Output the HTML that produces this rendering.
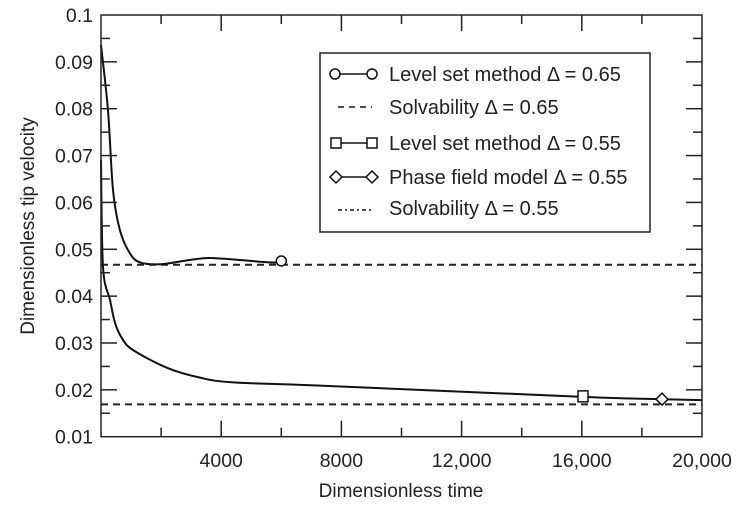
<!DOCTYPE html>
<html><head><meta charset="utf-8"><style>
html,body{margin:0;padding:0;background:#fff;}
svg{display:block;font-family:"Liberation Sans",Arial,sans-serif;}
</style></head><body>
<svg id="chart" width="741" height="505" viewBox="0 0 741 505">
<g id="plot"></g>
<text x="401" y="497" font-size="19" text-anchor="middle" fill="#222">Dimensionless time</text>
<text transform="translate(34,226) rotate(-90)" font-size="19" text-anchor="middle" fill="#222">Dimensionless tip velocity</text>
<g id="legend"></g>
</svg>
<script>
const xTicks=[4000,8000,12000,16000,20000];
const xTickLabels=["4000","8000","12,000","16,000","20,000"];
const yTicks=[0.01,0.02,0.03,0.04,0.05,0.06,0.07,0.08,0.09,0.1];
const yTickLabels=["0.01","0.02","0.03","0.04","0.05","0.06","0.07","0.08","0.09","0.1"];
const t065=[0,233,400,632,965,1298,1963,2629,3461,4026,4626,5624,5990];
const v065=[0.0936,0.0796,0.0626,0.054,0.0491,0.0472,0.0468,0.0474,0.0481,0.048,0.0477,0.0472,0.0472];
const t055=[0,67,300,466,699,1065,2196,3295,4393,7288,16040,18670,20000];
const v055=[0.0691,0.0462,0.0392,0.0343,0.031,0.0285,0.0247,0.0226,0.0216,0.0209,0.0185,0.018,0.0178];
const solv065=0.0467;
const solv055=0.0169;
const circleMark=[6000,0.0475];
const squareMark=[16040,0.0185];
const diamondMark=[18670,0.0180];

const X0=101,X1=702,Y0=436.7,Y1=15;
const sx=t=>X0+(t-0)/20000*(X1-X0);
const sy=v=>Y0-(v-0.01)/0.09*(Y0-Y1);
const NS="http://www.w3.org/2000/svg";
const g=document.getElementById('plot');
function mk(tag,attrs,parent){const e=document.createElementNS(NS,tag);for(const k in attrs)e.setAttribute(k,attrs[k]);(parent||g).appendChild(e);return e;}

let e=mk('line',{x1:X0,x2:X1,y1:sy(solv065),y2:sy(solv065),stroke:'#222','stroke-width':2,'stroke-dasharray':'7,5'});


e=mk('line',{x1:X0,x2:X1,y1:sy(solv055),y2:sy(solv055),stroke:'#222','stroke-width':2,'stroke-dasharray':'7,5'});



function smooth(ts,vs){
 const p=ts.map((t,i)=>[sx(t),sy(vs[i])]);
 let d='M'+p[0][0]+','+p[0][1];
 for(let i=0;i<p.length-1;i++){
  const p0=p[i-1]||p[i],p1=p[i],p2=p[i+1],p3=p[i+2]||p2;
  const c1=[p1[0]+(p2[0]-p0[0])/6,p1[1]+(p2[1]-p0[1])/6];
  const c2=[p2[0]-(p3[0]-p1[0])/6,p2[1]-(p3[1]-p1[1])/6];
  d+=' C'+c1+' '+c2+' '+p2;
 }
 return d;
}
e=mk('path',{d:smooth(t065,v065),fill:'none',stroke:'#111','stroke-width':2});


e=mk('path',{d:smooth(t055,v055),fill:'none',stroke:'#111','stroke-width':2});



e=mk('circle',{cx:sx(circleMark[0]),cy:sy(circleMark[1]),r:5,fill:'#fff',stroke:'#111','stroke-width':1.5});


e=mk('rect',{x:sx(squareMark[0])-5,y:sy(squareMark[1])-6,width:10,height:11,fill:'#fff',stroke:'#111','stroke-width':1.5});


{const cx=sx(diamondMark[0]),cy=sy(diamondMark[1]);
e=mk('polygon',{points:`${cx-6},${cy} ${cx},${cy-6} ${cx+6},${cy} ${cx},${cy+6}`,fill:'#fff',stroke:'#111','stroke-width':1.5});

}

e=mk('rect',{x:X0,y:Y1,width:X1-X0,height:Y0-Y1,fill:'none',stroke:'#222','stroke-width':1.5});



for(let t=2000;t<20000;t+=2000){
 const L=(t%4000===0)?16:9,x=sx(t);
 mk('line',{x1:x,x2:x,y1:Y0,y2:Y0-L,stroke:'#222','stroke-width':1.5});
 mk('line',{x1:x,x2:x,y1:Y1,y2:Y1+L,stroke:'#222','stroke-width':1.5});
}
xTicks.forEach((t,i)=>{
 const el=mk('text',{x:sx(t),y:467,'font-size':19.5,'text-anchor':'middle',fill:'#222'});
 el.textContent=xTickLabels[i];
 
 
});
for(let k=1;k<18;k++){
 const v=0.01+k*0.005,L=(k%2===0)?16:9,y=sy(v);
 mk('line',{x1:X0,x2:X0+L,y1:y,y2:y,stroke:'#222','stroke-width':1.5});
 mk('line',{x1:X1,x2:X1-L,y1:y,y2:y,stroke:'#222','stroke-width':1.5});
}
yTicks.forEach((v,i)=>{
 const el=mk('text',{x:93,y:sy(v)+7,'font-size':19.5,'text-anchor':'end',fill:'#222'});
 el.textContent=yTickLabels[i];
 
 
});

(function(){
const lg=document.getElementById('legend');
function m(tag,a){return mk(tag,a,lg);}
m('rect',{x:320,y:53,width:330,height:179,fill:'#fff',stroke:'#222','stroke-width':1.5});
const rows=[74,107,143,177,208];
const labels=["Level set method \u0394 = 0.65","Solvability \u0394 = 0.65","Level set method \u0394 = 0.55","Phase field model \u0394 = 0.55","Solvability \u0394 = 0.55"];
rows.forEach((y,i)=>{
 const t=m('text',{x:389,y:y+7,'font-size':20,fill:'#222'});
 t.textContent=labels[i];
 
 
});
m('line',{x1:340,x2:367,y1:74,y2:74,stroke:'#111','stroke-width':1.5});
m('circle',{cx:335,cy:74,r:5,fill:'#fff',stroke:'#111','stroke-width':1.5});
m('circle',{cx:372,cy:74,r:5,fill:'#fff',stroke:'#111','stroke-width':1.5});
m('line',{x1:338,x2:372,y1:107,y2:107,stroke:'#111','stroke-width':1.5,'stroke-dasharray':'6,5'});
m('line',{x1:341,x2:367,y1:143,y2:143,stroke:'#111','stroke-width':1.5});
m('rect',{x:331,y:138,width:10,height:10,fill:'#fff',stroke:'#111','stroke-width':1.5});
m('rect',{x:367,y:138,width:10,height:10,fill:'#fff',stroke:'#111','stroke-width':1.5});
m('line',{x1:342,x2:366,y1:177,y2:177,stroke:'#111','stroke-width':1.5});
m('polygon',{points:'330,177 336,171 342,177 336,183',fill:'#fff',stroke:'#111','stroke-width':1.5});
m('polygon',{points:'366,177 372,171 378,177 372,183',fill:'#fff',stroke:'#111','stroke-width':1.5});
m('line',{x1:338,x2:372,y1:210,y2:210,stroke:'#111','stroke-width':1.5,'stroke-dasharray':'4,3,2,3'});
})();
</script>
</body></html>
